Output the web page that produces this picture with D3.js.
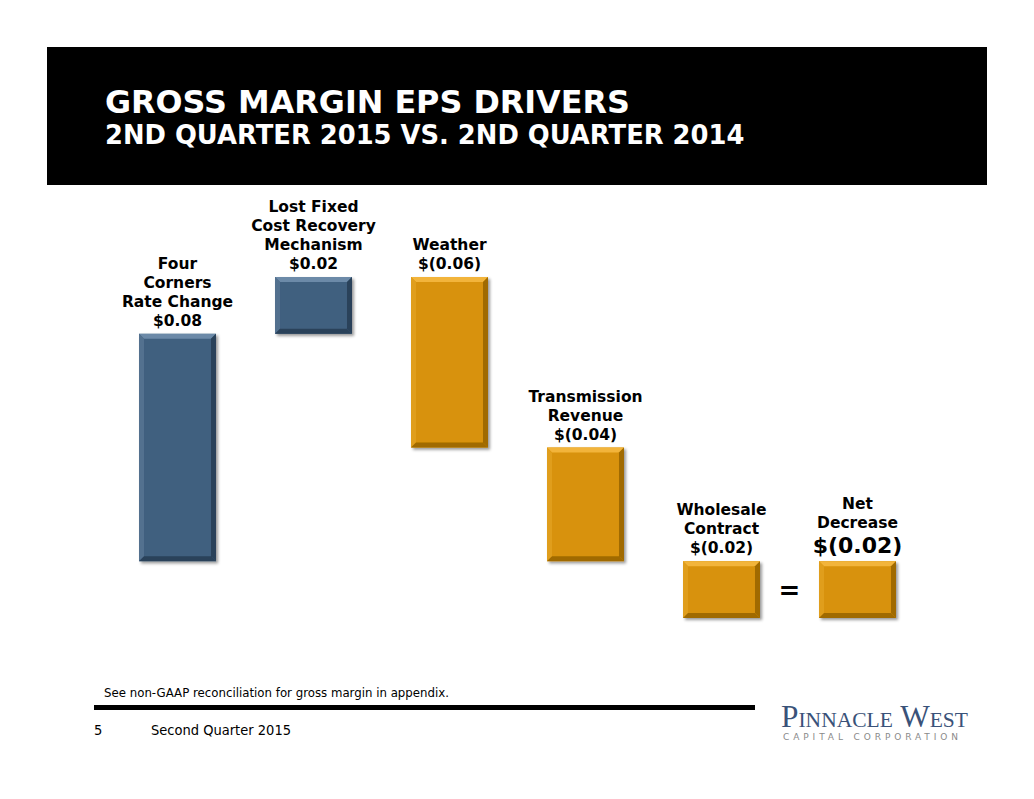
<!DOCTYPE html>
<html>
<head>
<meta charset="utf-8">
<script src="https://cdn.jsdelivr.net/npm/d3@7"></script>
<style>
  html, body { margin: 0; padding: 0; background: #fff; }
  svg { display: block; }
</style>
</head>
<body>
<div id="chart"></div>
<script>
// chart data
const categories = ["Four Corners", "Lost Fixed", "Weather", "Transmission", "Wholesale", "Net"];
const labelLines = [
  ["Four", "Corners", "Rate Change"],
  ["Lost Fixed", "Cost Recovery", "Mechanism"],
  ["Weather"],
  ["Transmission", "Revenue"],
  ["Wholesale", "Contract"],
  ["Net", "Decrease"]
];
const values = [0.08, 0.02, -0.06, -0.04, -0.02, -0.02];
const isTotal = [false, false, false, false, false, true];

const width = 1034, height = 799;

const svg = d3.select("#chart").append("svg")
  .attr("width", width)
  .attr("height", height);

const defs = svg.append("defs");
defs.append("filter")
  .attr("id", "shadow")
  .attr("x", "-10%").attr("y", "-10%")
  .attr("width", "130%").attr("height", "130%")
  .append("feDropShadow")
  .attr("dx", 2).attr("dy", 2)
  .attr("stdDeviation", 1.5)
  .attr("flood-color", "#000")
  .attr("flood-opacity", 0.4);

// header
svg.append("rect")
  .attr("x", 47).attr("y", 47)
  .attr("width", 940).attr("height", 138)
  .attr("fill", "#000");

svg.append("text")
  .attr("x", 105).attr("y", 113)
  .style("font-family", "'DejaVu Sans', Verdana, sans-serif")
  .style("font-weight", "bold")
  .style("font-size", "31.8px")
  .attr("fill", "#fff")
  .text("GROSS MARGIN EPS DRIVERS");

svg.append("text")
  .attr("x", 105).attr("y", 144)
  .style("font-family", "'DejaVu Sans', Verdana, sans-serif")
  .style("font-weight", "bold")
  .style("font-size", "25.8px")
  .attr("fill", "#fff")
  .text("2ND QUARTER 2015 VS. 2ND QUARTER 2014");

// waterfall: start/end of every bar
let running = 0;
const bars = values.map((v, i) => {
  let start, end;
  if (isTotal[i]) {
    start = 0; end = v;
  } else {
    start = running; end = running + v; running = end;
  }
  return { cat: categories[i], lines: labelLines[i], value: v, start, end, total: isTotal[i] };
});

const x = d3.scaleBand()
  .domain(categories)
  .range([109.5, 925.5])
  .paddingInner(0.434)
  .paddingOuter(0.217);

const y = d3.scaleLinear()
  .domain([-0.02, 0.10])
  .range([618, 277]);

const fmt = v => v < 0 ? "$(" + d3.format(".2f")(-v) + ")" : "$" + d3.format(".2f")(v);

const palette = {
  up:   { face: "#41607f", light: "#6c8aa8", side: "#53718f", dark: "#2a425a" },
  down: { face: "#d8920a", light: "#f2b43a", side: "#e09e1c", dark: "#a06a00" }
};

const g = svg.append("g");
const bevel = 5;

bars.forEach(d => {
  const x0 = x(d.cat), w = x.bandwidth();
  const yTop = y(Math.max(d.start, d.end));
  const yBot = y(Math.min(d.start, d.end));
  const h = yBot - yTop;
  const c = d.value >= 0 ? palette.up : palette.down;

  const bg = g.append("g").attr("filter", "url(#shadow)");
  bg.append("rect")
    .attr("x", x0).attr("y", yTop)
    .attr("width", w).attr("height", h)
    .attr("fill", c.face);

  const x1 = x0 + w, y1 = yBot, b = bevel;
  // top
  bg.append("polygon")
    .attr("points", [[x0, yTop], [x1, yTop], [x1 - b, yTop + b], [x0 + b, yTop + b]].join(" "))
    .attr("fill", c.light);
  // left
  bg.append("polygon")
    .attr("points", [[x0, yTop], [x0 + b, yTop + b], [x0 + b, y1 - b], [x0, y1]].join(" "))
    .attr("fill", c.side);
  // right
  bg.append("polygon")
    .attr("points", [[x1, yTop], [x1, y1], [x1 - b, y1 - b], [x1 - b, yTop + b]].join(" "))
    .attr("fill", c.dark);
  // bottom
  bg.append("polygon")
    .attr("points", [[x0, y1], [x1, y1], [x1 - b, y1 - b], [x0 + b, y1 - b]].join(" "))
    .attr("fill", c.dark);

  // labels
  const cx = x0 + w / 2;
  const valSize = d.total ? 22 : 15.5;
  const valY = yTop - 8;
  const firstGap = d.total ? 25 : 19;
  const t = g.append("g")
    .style("font-family", "'DejaVu Sans', Verdana, sans-serif")
    .style("font-weight", "bold")
    .attr("text-anchor", "middle")
    .attr("fill", "#000");
  t.append("text")
    .attr("x", cx).attr("y", valY)
    .style("font-size", valSize + "px")
    .text(fmt(d.value));
  const n = d.lines.length;
  d.lines.forEach((line, k) => {
    t.append("text")
      .attr("x", cx)
      .attr("y", valY - firstGap - (n - 1 - k) * 19)
      .style("font-size", "15.5px")
      .text(line);
  });
});

// equals sign between last two bars
const eqX = (x(categories[4]) + x.bandwidth() + x(categories[5])) / 2;
svg.append("text")
  .attr("x", eqX).attr("y", y(-0.01) + 9)
  .attr("text-anchor", "middle")
  .style("font-family", "'DejaVu Sans', Verdana, sans-serif")
  .style("font-weight", "bold")
  .style("font-size", "26px")
  .attr("fill", "#000")
  .text("=");

// footer
svg.append("text")
  .attr("x", 104).attr("y", 697)
  .attr("textLength", 345)
  .attr("lengthAdjust", "spacingAndGlyphs")
  .style("font-family", "'DejaVu Sans Condensed', 'DejaVu Sans', sans-serif")
  .style("font-size", "12.5px")
  .attr("fill", "#000")
  .text("See non-GAAP reconciliation for gross margin in appendix.");

svg.append("rect")
  .attr("x", 94).attr("y", 705)
  .attr("width", 661).attr("height", 5)
  .attr("fill", "#000");

svg.append("text")
  .attr("x", 94).attr("y", 735)
  .style("font-family", "'DejaVu Sans Condensed', 'DejaVu Sans', sans-serif")
  .style("font-size", "14.5px")
  .text("5");

svg.append("text")
  .attr("x", 151).attr("y", 735)
  .attr("textLength", 140)
  .attr("lengthAdjust", "spacingAndGlyphs")
  .style("font-family", "'DejaVu Sans Condensed', 'DejaVu Sans', sans-serif")
  .style("font-size", "14.5px")
  .text("Second Quarter 2015");

// logo
svg.append("text")
  .attr("x", 781).attr("y", 727)
  .attr("textLength", 187)
  .attr("lengthAdjust", "spacingAndGlyphs")
  .style("font-family", "'Liberation Serif', serif")
  .style("font-variant", "small-caps")
  .style("font-size", "32px")
  .attr("fill", "#3a5279")
  .text("Pinnacle West");

svg.append("text")
  .attr("x", 783).attr("y", 740)
  .attr("textLength", 175)
  .attr("lengthAdjust", "spacing")
  .style("font-family", "'DejaVu Sans', sans-serif")
  .style("font-size", "9px")
  .attr("fill", "#8a8a8a")
  .text("CAPITAL CORPORATION");
</script>
</body>
</html>
